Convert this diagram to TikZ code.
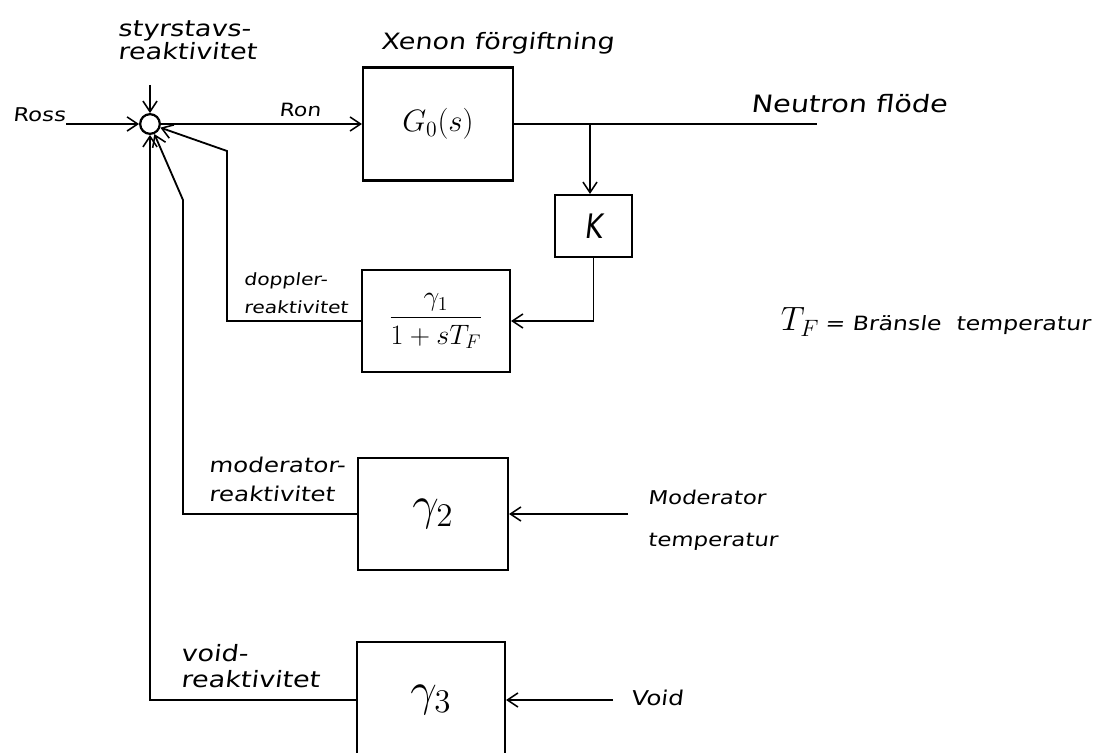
\RequirePackage{fix-cm}
\documentclass[tikz,border=0pt]{standalone}
\usepackage{fontspec}
\usepackage{graphicx}
\newfontfamily\hand{DejaVu Sans}[FakeStretch=1.2,FakeSlant=0.12]
\newfontfamily\handK{DejaVu Sans}[FakeStretch=0.8,FakeSlant=0.12]
\usetikzlibrary{arrows.meta}
\begin{document}
\begin{tikzpicture}[x=0.025cm,y=-0.025cm,
  line width=1.3pt,
  conn/.style={-{Straight Barb[length=7.5pt,width=10pt,line width=1.1pt]}},
  blk/.style={draw,line width=1.5pt,inner sep=0pt},
  lbl/.style={font=\hand\fontsize{16}{17}\selectfont,inner sep=0pt,align=left},
  sum/.style={draw,circle,minimum size=14pt,inner sep=0pt,line width=1.6pt}]
\clip (0,0) rectangle (1120,753);
\fill[white] (0,0) rectangle (1120,753);

% summing junction and blocks
\node[sum] (S) at (150,124) {};
\node[blk,minimum width=3.75cm,minimum height=2.825cm,font=\fontsize{22}{24}\selectfont] (G0) at (438,124) {$G_0(s)$};
\node[blk,minimum width=1.925cm,minimum height=1.55cm,font=\handK\fontsize{24}{26}\selectfont] (K) at (593.5,226) {K};
\node[blk,minimum width=3.7cm,minimum height=2.55cm,font=\fontsize{20}{24}\selectfont] (g1) at (436,321) {$\displaystyle\frac{\gamma_1}{1+sT_F}$};
\node[blk,minimum width=3.75cm,minimum height=2.8cm,font=\fontsize{24}{28}\selectfont] (g2) at (433,514) {\scalebox{1.4}{$\gamma_2$}};
\node[blk,minimum width=3.7cm,minimum height=2.9cm,font=\fontsize{24}{28}\selectfont] (g3) at (431,700) {\scalebox{1.4}{$\gamma_3$}};

% coordinates
\coordinate (rossin) at (66,124);
\coordinate (styin) at (150,85);
\coordinate (nout) at (817,124);
\coordinate (br) at (590,124);
\coordinate (dp) at (227,151);
\coordinate (mp) at (183,200);
\coordinate (modin) at (628,514);
\coordinate (voidin) at (613,700);

% connectors
\draw[conn] (rossin) -- (S);
\draw[conn] (styin) -- (S);
\draw[conn] (S) -- (G0);
\draw (G0.east) -- (nout);
\draw[conn] (br) -- (br |- K.north);
\draw[conn] (K.south) |- (g1.east);
\draw[conn] (g1.west) -| (dp) -- (S);
\draw[conn] (g2.west) -| (mp) -- (S);
\draw[conn] (g3.west) -| (S.south);
\draw[conn] (modin) -- (g2.east);
\draw[conn] (voidin) -- (g3.east);

% labels
\node[lbl,anchor=west,font=\hand\fontsize{13.5}{15}\selectfont] (ross) at (12,115) {Ross};
\node[lbl,anchor=north west,font=\hand\fontsize{16}{14.5}\selectfont] (sty) at (117,20) {styrstavs-\\reaktivitet};
\node[lbl,font=\hand\fontsize{13}{15}\selectfont] (ron) at (300,110) {Ron};
\node[lbl,anchor=west] (xe) at (380,43) {Xenon förgiftning};
\node[lbl,anchor=west,font=\hand\fontsize{17}{18}\selectfont] (nf) at (750,104) {Neutron flöde};
\node[lbl,anchor=north west,font=\hand\fontsize{12}{20}\selectfont] (dop) at (243,272) {doppler-\\reaktivitet};
\node[lbl,anchor=north west,font=\hand\fontsize{14.5}{20.5}\selectfont] (mod) at (208,456) {moderator-\\reaktivitet};
\node[lbl,anchor=north west,font=\hand\fontsize{16}{18.5}\selectfont] (vr) at (180,643) {void-\\reaktivitet};
\node[lbl,anchor=west,font=\hand\fontsize{13.5}{30}\selectfont] (mt) at (647,520) {Moderator\\temperatur};
\node[lbl,anchor=west,font=\hand\fontsize{14.5}{16}\selectfont] (vd) at (630,698) {Void};
\node[anchor=west,inner sep=0pt] (tf) at (780,322) {\fontsize{24}{26}\selectfont$T_F$\,{\hand\fontsize{14}{15}\selectfont = Bränsle\ \ temperatur}};
\end{tikzpicture}
\end{document}
